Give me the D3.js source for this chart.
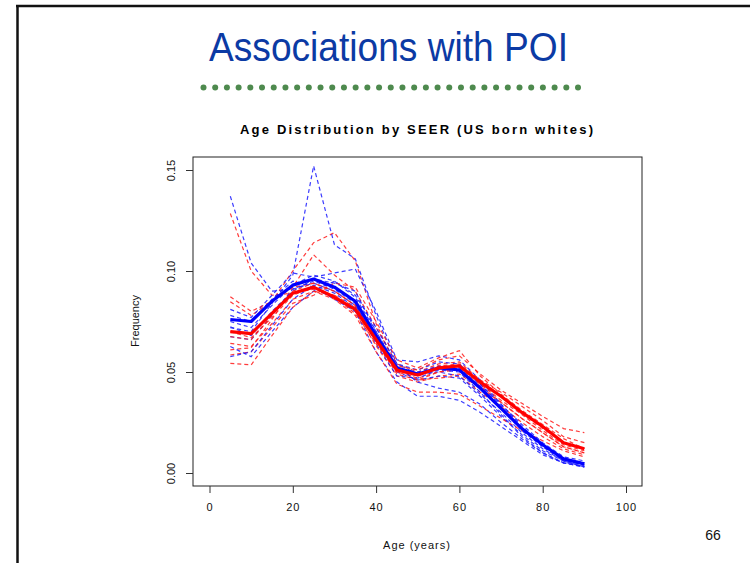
<!DOCTYPE html>
<html><head><meta charset="utf-8">
<script src="https://cdn.jsdelivr.net/npm/d3@7"></script>
<style>
html,body{margin:0;padding:0;background:#fff;}
svg{display:block;}
text{font-family:"Liberation Sans",Arial,sans-serif;}
</style></head>
<body>
<svg id="c" width="750" height="563"></svg>
<script>
// ---- data ----
const slideTitle = "Associations with POI";
const chartTitle = "Age Distribution by SEER (US born whites)";
const xLabel = "Age (years)";
const yLabel = "Frequency";
const pageNumber = "66";
const ages = [5,10,15,20,25,30,35,40,45,50,55,60,65,70,75,80,85,90];
const xTicks = [0,20,40,60,80,100];
const yTicks = [0.00,0.05,0.10,0.15];

const blueOverall = [0.076,0.075,0.085,0.093,0.096,0.092,0.085,0.068,0.052,0.049,0.052,0.051,0.042,0.032,0.022,0.014,0.007,0.0045];
const redOverall  = [0.070,0.069,0.079,0.089,0.092,0.087,0.081,0.066,0.051,0.0485,0.052,0.053,0.045,0.038,0.030,0.023,0.015,0.012];

const blueRegistries = [
  [0.137,0.104,0.090,0.091,0.094,0.090,0.083,0.066,0.050,0.046,0.048,0.047,0.038,0.028,0.019,0.011,0.006,0.004],
  [0.072,0.070,0.084,0.098,0.152,0.113,0.106,0.078,0.054,0.049,0.050,0.048,0.039,0.030,0.020,0.012,0.006,0.003],
  [0.081,0.077,0.088,0.099,0.097,0.099,0.101,0.080,0.056,0.055,0.058,0.056,0.046,0.034,0.023,0.014,0.007,0.004],
  [0.0626,0.0576,0.070,0.082,0.090,0.095,0.088,0.072,0.054,0.051,0.055,0.054,0.044,0.033,0.022,0.013,0.006,0.003],
  [0.078,0.075,0.086,0.095,0.092,0.086,0.080,0.060,0.045,0.038,0.038,0.036,0.030,0.023,0.016,0.009,0.005,0.003],
  [0.0724,0.068,0.080,0.090,0.096,0.094,0.090,0.070,0.052,0.050,0.053,0.052,0.043,0.032,0.021,0.013,0.007,0.005],
  [0.0675,0.066,0.078,0.091,0.095,0.091,0.084,0.064,0.048,0.047,0.051,0.050,0.040,0.029,0.018,0.010,0.005,0.0035],
  [0.0576,0.060,0.073,0.086,0.093,0.089,0.082,0.066,0.051,0.048,0.052,0.053,0.044,0.034,0.024,0.015,0.008,0.006],
  [0.075,0.072,0.083,0.093,0.098,0.095,0.087,0.070,0.053,0.045,0.042,0.040,0.034,0.025,0.017,0.010,0.005,0.003]
];
const redRegistries = [
  [0.1285,0.100,0.088,0.089,0.091,0.088,0.080,0.063,0.048,0.045,0.048,0.049,0.042,0.035,0.027,0.020,0.013,0.010],
  [0.0848,0.078,0.085,0.100,0.114,0.119,0.105,0.074,0.052,0.046,0.047,0.048,0.040,0.033,0.025,0.018,0.012,0.009],
  [0.061,0.062,0.076,0.092,0.108,0.098,0.090,0.072,0.054,0.050,0.054,0.055,0.046,0.038,0.030,0.022,0.015,0.012],
  [0.0873,0.080,0.085,0.092,0.094,0.090,0.083,0.066,0.050,0.047,0.050,0.051,0.043,0.035,0.027,0.020,0.013,0.010],
  [0.0543,0.0535,0.068,0.082,0.090,0.088,0.082,0.068,0.053,0.051,0.056,0.058,0.049,0.041,0.0345,0.028,0.022,0.020],
  [0.0642,0.0626,0.074,0.086,0.090,0.086,0.078,0.060,0.044,0.040,0.040,0.039,0.033,0.027,0.021,0.016,0.011,0.008],
  [0.0584,0.060,0.072,0.084,0.088,0.094,0.092,0.075,0.056,0.052,0.057,0.0606,0.048,0.039,0.031,0.024,0.017,0.012],
  [0.070,0.067,0.077,0.088,0.092,0.087,0.079,0.064,0.050,0.049,0.053,0.054,0.046,0.040,0.033,0.026,0.018,0.015],
  [0.0675,0.066,0.078,0.090,0.094,0.090,0.083,0.065,0.049,0.046,0.050,0.052,0.044,0.036,0.029,0.021,0.014,0.011]
];

// ---- drawing ----
const svg = d3.select("#c");
const W = 750, H = 563;

// slide border
svg.append("line").attr("x1",17.5).attr("x2",17.5).attr("y1",5).attr("y2",H)
  .attr("stroke","#111").attr("stroke-width",2.5);
svg.append("line").attr("x1",16).attr("x2",W).attr("y1",6).attr("y2",6)
  .attr("stroke","#111").attr("stroke-width",2.5);

// slide title
svg.append("text").attr("x",209).attr("y",61).text(slideTitle)
  .attr("font-size",40).attr("fill","#0b3aa4")
  .attr("textLength",359).attr("lengthAdjust","spacingAndGlyphs");

// dotted separator
const nDots = 33;
const dotScale = d3.scaleLinear().domain([0,nDots-1]).range([203.5,578]);
svg.append("g").selectAll("circle").data(d3.range(nDots)).join("circle")
  .attr("cx",d=>dotScale(d)).attr("cy",87.5).attr("r",3).attr("fill","#4e8a4e");

// plot region
const frame = {l:193, t:157, r:642, b:486};
const x = d3.scaleLinear().domain([0,100]).range([209.5,626]);
const y = d3.scaleLinear().domain([0,0.15]).range([473,170]);

svg.append("text").attr("x",240).attr("y",133.5).text(chartTitle)
  .attr("font-size",13).attr("font-weight","bold").attr("fill","#000")
  .attr("textLength",353).attr("lengthAdjust","spacing");

const line = d3.line().x((d,i)=>x(ages[i])).y(d=>y(d));

const plot = svg.append("g");
redRegistries.forEach((s,k)=>{
  plot.append("path").datum(s).attr("d",line).attr("fill","none")
    .attr("stroke","#ff1a1a").attr("stroke-opacity",0.85).attr("stroke-width",1.2)
    .attr("stroke-dasharray","4,3");
  const b = blueRegistries[k];
  plot.append("path").datum(b).attr("d",line).attr("fill","none")
    .attr("stroke","#1a1aff").attr("stroke-opacity",0.85).attr("stroke-width",1.2)
    .attr("stroke-dasharray","4,3");
});
plot.append("path").datum(blueOverall).attr("d",line).attr("fill","none")
  .attr("stroke","#0000ff").attr("stroke-width",3.2).attr("stroke-linejoin","round");
plot.append("path").datum(redOverall).attr("d",line).attr("fill","none")
  .attr("stroke","#ff0000").attr("stroke-width",3.2).attr("stroke-linejoin","round");

// frame box
svg.append("rect").attr("x",frame.l).attr("y",frame.t)
  .attr("width",frame.r-frame.l).attr("height",frame.b-frame.t)
  .attr("fill","none").attr("stroke","#222").attr("stroke-width",1);

// x axis
const xAxis = d3.axisBottom(x).tickValues(xTicks).tickSize(7).tickPadding(10)
  .tickFormat(d3.format("d"));
const gx = svg.append("g").attr("transform",`translate(0,${frame.b})`).call(xAxis);
gx.select(".domain").remove();
gx.selectAll("line").attr("stroke","#333");
gx.selectAll("text").attr("font-size",11).attr("fill","#111")
  .attr("font-family","Liberation Sans, Arial, sans-serif").style("letter-spacing","1px");

// y axis
const yAxis = d3.axisLeft(y).tickValues(yTicks).tickSize(7).tickPadding(4)
  .tickFormat(d3.format(".2f"));
const gy = svg.append("g").attr("transform",`translate(${frame.l},0)`).call(yAxis);
gy.select(".domain").remove();
gy.selectAll("line").attr("stroke","#333");
gy.selectAll("text").attr("font-size",11).attr("fill","#111")
  .attr("font-family","Liberation Sans, Arial, sans-serif")
  .attr("text-anchor","middle").attr("dy",null)
  .attr("x",0).attr("y",4)
  .attr("transform","translate(-22,0) rotate(-90)");

// axis labels
svg.append("text").attr("x",417).attr("y",549).attr("text-anchor","middle")
  .text(xLabel).attr("font-size",11).attr("fill","#111").style("letter-spacing","1px");
svg.append("text").attr("transform",`translate(139,321) rotate(-90)`).attr("text-anchor","middle")
  .text(yLabel).attr("font-size",11).attr("fill","#111");

// page number
svg.append("text").attr("x",713).attr("y",540).attr("text-anchor","middle")
  .text(pageNumber).attr("font-size",14).attr("fill","#111");
</script>
</body></html>
